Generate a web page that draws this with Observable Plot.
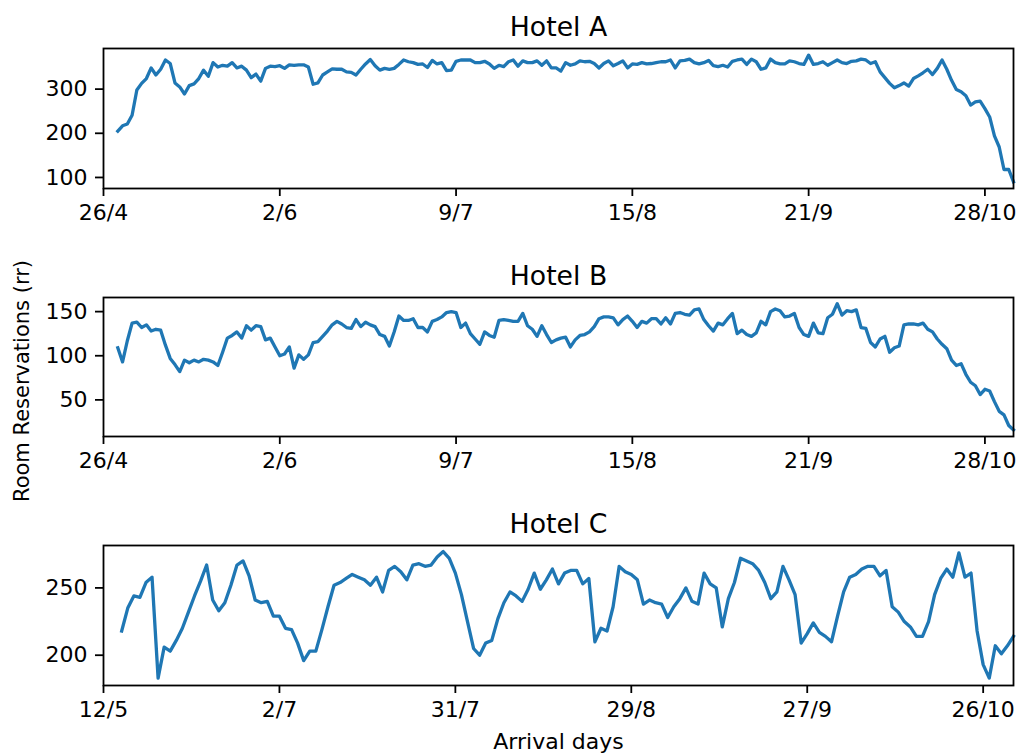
<!DOCTYPE html>
<html>
<head>
<meta charset="utf-8">
<script src="https://cdn.jsdelivr.net/npm/d3@7"></script>
<script src="https://cdn.jsdelivr.net/npm/@observablehq/plot@0.6"></script>
<style>
  html, body { margin: 0; padding: 0; background: white; overflow: hidden; }
  #chart svg { display: block; }
</style>
</head>
<body>
<div id="chart"></div>
<script>
// ---- data ----
const hotelATitle = "Hotel A";
const hotelBTitle = "Hotel B";
const hotelCTitle = "Hotel C";
const yLabel = "Room Reservations (rr)";
const xLabel = "Arrival days";

// Hotel A & B: one value per arrival day, first value on day index 3
const abStart = 3;
const abTickIdx = [0, 37, 74, 111, 148, 185];
const abTickLabels = ["26/4", "2/6", "9/7", "15/8", "21/9", "28/10"];
const hotelA = [
  205,217,221,241,298,313,324,348,332,345,366,358,314,305,289,308,312,324,343,329,
  360,350,354,352,360,348,352,343,326,334,318,347,352,351,353,347,355,354,355,355,
  350,311,314,332,339,346,345,345,339,338,332,345,357,367,353,343,347,345,347,356,
  366,362,360,356,357,349,365,357,360,342,343,363,366,366,366,360,360,363,357,347,
  354,351,362,366,352,364,360,360,364,354,364,348,348,341,360,354,357,364,362,363,
  358,348,358,364,353,358,364,348,357,356,360,357,358,360,362,362,366,348,364,365,
  368,360,357,360,365,353,351,354,350,363,366,368,356,368,362,345,348,368,360,357,
  357,364,362,358,356,377,356,358,362,354,360,366,360,358,363,364,368,366,358,362,
  339,326,313,303,308,314,307,324,330,337,345,333,347,366,345,320,299,294,285,264,
  271,273,256,237,194,169,118,118,90
];
const hotelB = [
  109,93,117,137,138,132,135,128,130,129,112,97,90,82,95,92,95,93,96,95,
  93,89,104,120,123,127,120,134,129,134,133,118,120,110,100,102,110,86,101,96,
  101,115,116,122,128,135,139,136,132,131,141,133,138,135,133,124,122,111,127,145,
  140,140,142,132,132,127,139,141,144,149,150,149,132,137,125,119,113,127,123,121,
  140,141,140,139,139,148,134,130,122,134,124,115,118,120,121,110,118,123,124,127,
  133,142,144,144,143,135,141,145,139,132,139,137,142,142,136,143,136,148,149,147,
  146,152,153,141,134,128,137,135,142,148,125,129,124,122,126,139,135,150,153,151,
  144,145,148,132,124,122,137,126,125,143,147,159,146,151,150,152,132,131,115,110,
  119,122,104,109,111,135,136,136,135,137,130,127,119,113,108,95,89,91,79,70,
  66,56,62,60,48,37,33,21,16
];

// Hotel C: one value per recorded arrival day, first value on index 3
const cStart = 3;
const cTickIdx = [0, 29, 58, 87, 116, 145];
const cTickLabels = ["12/5", "2/7", "31/7", "29/8", "27/9", "26/10"];
const hotelC = [
  218,235,244,243,254,258,183,206,203,211,220,232,244,255,267,241,233,239,252,267,
  270,259,241,239,240,229,229,220,219,209,196,203,203,219,236,252,254,257,260,258,
  256,252,258,247,263,266,262,256,267,268,266,267,273,277,272,261,245,225,205,200,
  209,211,227,239,247,244,240,249,261,249,256,264,253,261,263,263,253,257,210,220,
  218,236,266,262,260,256,238,241,239,238,228,236,242,250,240,238,261,253,250,221,
  242,254,272,270,268,263,254,242,247,266,256,245,209,216,224,217,214,210,229,247,
  258,260,264,266,266,259,263,236,232,225,221,214,214,225,245,257,264,258,276,258,
  261,218,193,183,207,201,207,214
];

const aYTicks = [100, 200, 300];
const bYTicks = [50, 100, 150];
const cYTicks = [200, 250];

// ---- drawing ----
const FONT = "DejaVu Sans";
const LINE = "#1f77b4";

function panel(o) {
  const data = o.values.map((v, i) => ({x: i + o.start, y: v}));
  const marks = [
    Plot.line(data, {x: "x", y: "y", stroke: LINE, strokeWidth: 3.3, strokeLinejoin: "round", strokeLinecap: "square"}),
    Plot.frame({stroke: "black", strokeWidth: 1.8}),
    Plot.axisX({
      ticks: o.xTicks,
      tickFormat: d => o.xLabels[o.xTicks.indexOf(d)],
      tickSize: 8, tickPadding: 8, strokeWidth: 1.8, fontSize: 22, label: null
    }),
    Plot.axisY({
      ticks: o.yTicks, tickFormat: d => String(d),
      tickSize: 8, tickPadding: 8, strokeWidth: 1.8, fontSize: 22, label: null
    }),
    Plot.text([o.title], {
      frameAnchor: "top", lineAnchor: "bottom", dy: -13,
      fontSize: 26.7, fill: "black", text: d => d
    })
  ];
  if (o.extra) marks.push(...o.extra);
  return Plot.plot({
    width: 1019,
    height: o.height,
    marginLeft: 103,
    marginRight: 6,
    marginTop: o.marginTop,
    marginBottom: o.marginBottom,
    style: {fontFamily: FONT, fontSize: "22px", color: "black", background: "white", overflow: "visible"},
    x: {type: "linear", domain: o.xDomain},
    y: {type: "linear", domain: o.yDomain},
    marks
  });
}

const chart = document.getElementById("chart");

chart.appendChild(panel({
  values: hotelA, start: abStart, xTicks: abTickIdx, xLabels: abTickLabels,
  xDomain: [0, 191], yDomain: [75, 392], yTicks: aYTicks, title: hotelATitle,
  height: 248, marginTop: 48, marginBottom: 60
}));

chart.appendChild(panel({
  values: hotelB, start: abStart, xTicks: abTickIdx, xLabels: abTickLabels,
  xDomain: [0, 191], yDomain: [8.5, 166], yTicks: bYTicks, title: hotelBTitle,
  height: 249, marginTop: 49, marginBottom: 61,
  extra: [
    Plot.text([yLabel], {
      frameAnchor: "left", dx: -81, dy: 14, rotate: -90,
      textAnchor: "middle", lineAnchor: "middle",
      fontSize: 21, fill: "black", text: d => d
    })
  ]
}));

chart.appendChild(panel({
  values: hotelC, start: cStart, xTicks: cTickIdx, xLabels: cTickLabels,
  xDomain: [0, 150], yDomain: [177.5, 281.5], yTicks: cYTicks, title: hotelCTitle,
  height: 256, marginTop: 48, marginBottom: 68,
  extra: [
    Plot.text([xLabel], {
      frameAnchor: "bottom", lineAnchor: "top", dy: 48,
      fontSize: 22, fill: "black", text: d => d
    })
  ]
}));
</script>
</body>
</html>
